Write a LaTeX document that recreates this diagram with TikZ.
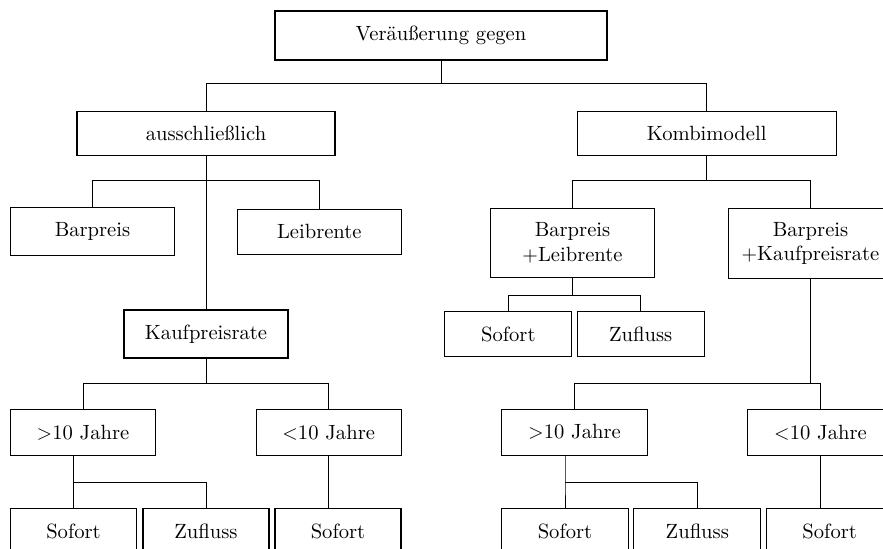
\documentclass[tikz,border=0pt]{standalone}
\begin{document}
\begin{tikzpicture}[x=0.5pt, y=-0.5pt,
    box/.style={draw, semithick, minimum height=23pt, align=center, inner sep=2pt,
        font=\fontsize{10.3}{12.4}\selectfont}]
    \clip[use as bounding box] (0,0) rectangle (883,549);
    % Wurzel und erste Ebene
    \node[box, minimum width=166pt, minimum height=24.5pt] (vg) at (441,35.5) {Veräußerung gegen};
    \node[box, minimum width=129pt, minimum height=22pt] (aus) at (206,133.7) {ausschließlich};
    \node[box, minimum width=129.5pt, minimum height=22pt] (komb) at (706.7,133.7) {Kombimodell};
    % ausschliesslich
    \node[box, minimum width=82pt, minimum height=24pt] (bar) at (92.5,231.7) {Barpreis};
    \node[box, minimum width=82pt, minimum height=22.5pt] (leib) at (319.3,231.8) {Leibrente};
    \node[box, minimum width=82pt, minimum height=24pt] (kauf) at (206,334) {Kaufpreisrate};
    \node[box, minimum width=72.5pt] (gtl) at (83,432.3) {$>$10 Jahre};
    \node[box, minimum width=72.5pt] (ltl) at (328.7,432.3) {$<$10 Jahre};
    \node[box, minimum width=63pt, minimum height=22.5pt] (s1) at (73.5,531) {Sofort};
    \node[box, minimum width=63pt, minimum height=22.5pt] (z1) at (206,531) {Zufluss};
    \node[box, minimum width=63pt, minimum height=22.5pt] (s2) at (338,531) {Sofort};
    % Kombimodell
    \node[box, minimum width=82pt, minimum height=34.5pt] (bl) at (572.5,243) {Barpreis\\$+$Leibrente};
    \node[box, minimum width=82pt, minimum height=34.8pt] (bk) at (810.5,243.5) {Barpreis\\$+$Kaufpreisrate};
    \node[box, minimum width=63.5pt, minimum height=22.5pt] (s3) at (508.3,334.2) {Sofort};
    \node[box, minimum width=63.5pt, minimum height=22.5pt] (z3) at (640.7,334.2) {Zufluss};
    \node[box, minimum width=73pt] (gtr) at (574.5,432.2) {$>$10 Jahre};
    \node[box, minimum width=73pt] (ltr) at (820.5,432.3) {$<$10 Jahre};
    \node[box, minimum width=63.5pt, minimum height=22.5pt] (s4) at (565,531) {Sofort};
    \node[box, minimum width=63.5pt, minimum height=22.5pt] (z4) at (697.3,531) {Zufluss};
    \node[box, minimum width=63.5pt, minimum height=22.5pt] (s5) at (829.7,531) {Sofort};
    % Verbindungen
    \draw (vg.south) -- ++(0,23) coordinate (k0) -| (aus.north); \draw (k0) -| (komb.north);
    \draw (aus.south) -- (kauf.north);
    \draw (aus.south) -- ++(0,24) coordinate (k1) -| (bar.north); \draw (k1) -| (leib.north);
    \draw (kauf.south) -- ++(0,25) coordinate (k2) -| (gtl.north); \draw (k2) -| (ltl.north);
    \draw (gtl.south -| s1.north) -- ++(0,27) coordinate (k3) -- (s1.north); \draw (k3) -| (z1.north);
    \draw (ltl.south) -- (ltl.south |- s2.north);
    \draw (komb.south) -- ++(0,24) coordinate (k4) -| (bl.north); \draw (k4) -| (bk.north);
    \draw (bl.south) -- ++(0,17) coordinate (k5) -| (s3.north); \draw (k5) -| (z3.north);
    \draw (bk.south) -- ++(0,105) coordinate (k6) -| (gtr.north); \draw (k6) -| (ltr.north);
    \draw (gtr.south -| s4.north) -- ++(0,27) coordinate (k7) -- (s4.north); \draw (k7) -| (z4.north);
    \draw (ltr.south) -- (ltr.south |- s5.north);
\end{tikzpicture}
\end{document}
